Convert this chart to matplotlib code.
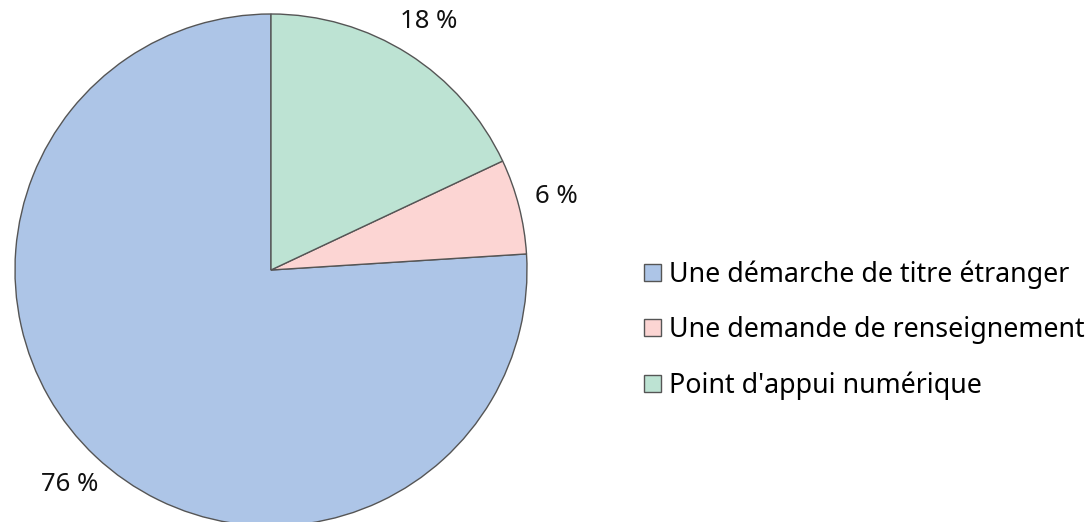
import matplotlib.pyplot as plt

# Data
labels = ["Une démarche de titre étranger", "Une demande de renseignement", "Point d'appui numérique"]
values = [76, 6, 18]
colors = ["#adc5e7", "#fcd5d3", "#bde3d3"]

plt.rcParams['font.family'] = ['Noto Sans', 'DejaVu Sans']

fig = plt.figure(figsize=(10.91, 5.22), dpi=100)
W, H = 1091, 522
cx, cy, r = 271, 270, 256
ax = fig.add_axes([(cx - r) / W, (H - cy - r) / H, 2 * r / W, 2 * r / H])

wedges, texts = ax.pie(values, colors=colors, startangle=90, counterclock=True,
                       labels=[f"{v} %" for v in values], labeldistance=1.15,
                       wedgeprops=dict(edgecolor="#555555", linewidth=1.0),
                       textprops=dict(fontsize=18.5, color="#111111"))
for t in texts:
    t.set_horizontalalignment('center')
    t.set_verticalalignment('center')
ax.set_xlim(-1, 1)
ax.set_ylim(-1, 1)
ax.set_aspect('equal')
ax.axis('off')

leg = fig.legend(wedges, labels, loc='center left', bbox_to_anchor=(644 / W, 1 - 330 / H),
                 frameon=False, fontsize=19.3, handlelength=0.62, handleheight=0.62,
                 handletextpad=0.3, labelspacing=1.02, borderaxespad=0, borderpad=0)
for h in leg.legend_handles:
    h.set_edgecolor("#555555")

fig.savefig("out.png", dpi=100)
